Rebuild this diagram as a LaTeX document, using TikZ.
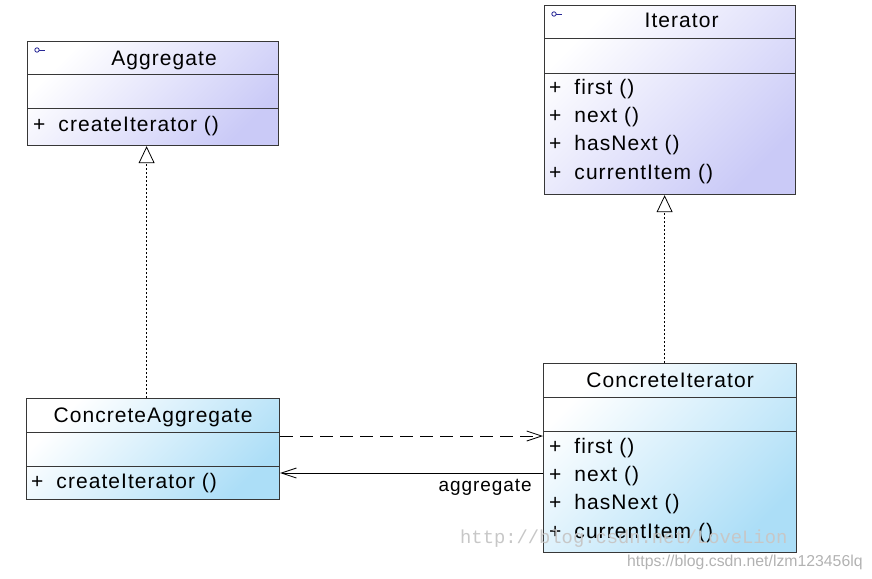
\documentclass[tikz,border=0pt]{standalone}
\usepackage{fontspec}
\setmainfont{Liberation Sans}[LetterSpace=5]
\newfontfamily\wmmono{Liberation Mono}
\newfontfamily\wmsans{Liberation Sans}
\usetikzlibrary{arrows.meta,positioning}

\definecolor{ifacefill}{RGB}{202,202,247}
\definecolor{implfill}{RGB}{172,222,247}
\definecolor{boxline}{RGB}{55,55,55}
\definecolor{iconblue}{RGB}{40,40,150}

\tikzset{
    classbox/.style={draw=boxline, line width=1.2pt, top color=white, bottom color=#1,
        shading angle=45, anchor=north west, inner sep=0pt},
    divider/.style={draw=boxline, line width=1pt},
    classname/.style={font=\fontsize{21}{25}\selectfont, anchor=base, inner sep=0pt},
    member/.style={font=\fontsize{21}{25}\selectfont, anchor=base west, inner sep=0pt},
    icon/.style={draw=iconblue, line width=0.8pt},
    realize/.style={draw=black, line width=0.8pt, dash pattern=on 2pt off 2pt,
        -{Triangle[open, fill=white, length=17pt, width=16pt, line width=0.8pt]}},
    depend/.style={draw=black, line width=0.8pt, dash pattern=on 13pt off 7pt,
        -{Straight Barb[length=15pt, width=10pt, line width=0.8pt]}},
    assoc/.style={draw=black, line width=0.8pt,
        -{Straight Barb[length=15pt, width=10pt, line width=0.8pt]}},
    rolelabel/.style={font=\fontsize{19}{23}\selectfont, inner sep=0pt},
    watermark/.style={inner sep=0pt, anchor=base west}
}

\begin{document}
\begin{tikzpicture}[x=1pt, y=-1pt]
    \useasboundingbox (0,0) rectangle (872,578);

    % Aggregate (interface)
    \node[classbox=ifacefill, minimum width=251pt, minimum height=104pt] (agg) at (27,41) {};
    \draw[divider] ([yshift=-33pt]agg.north west) -- ([yshift=-33pt]agg.north east);
    \draw[divider] ([yshift=-67pt]agg.north west) -- ([yshift=-67pt]agg.north east);
    \draw[icon] ([shift={(10pt,-9pt)}]agg.north west) coordinate (aggicon) circle (2.2pt);
    \draw[icon] ([xshift=2.2pt]aggicon) -- ++(6,0);
    \node[classname] (aggname) at ([shift={(11pt,-25pt)}]agg.north) {Aggregate};
    \node[member] (aggop) at ([shift={(6pt,-90pt)}]agg.north west) {+\hspace{13pt}createIterator ()};

    % Iterator (interface)
    \node[classbox=ifacefill, minimum width=251pt, minimum height=189pt] (iter) at (544,5) {};
    \draw[divider] ([yshift=-34pt]iter.north west) -- ([yshift=-34pt]iter.north east);
    \draw[divider] ([yshift=-68pt]iter.north west) -- ([yshift=-68pt]iter.north east);
    \draw[icon] ([shift={(10pt,-9pt)}]iter.north west) coordinate (itericon) circle (2.2pt);
    \draw[icon] ([xshift=2.2pt]itericon) -- ++(6,0);
    \node[classname] (itername) at ([shift={(11.5pt,-23pt)}]iter.north) {Iterator};
    \foreach \op [count=\i from 0] in {first (), next (), hasNext (), currentItem ()} {
        \node[member] (iterop\i) at ([shift={(5pt,-89pt-28.4pt*\i)}]iter.north west) {+\hspace{13pt}\op};
    }

    % ConcreteAggregate
    \node[classbox=implfill, minimum width=253pt, minimum height=101pt] (cagg) at (26,398) {};
    \draw[divider] ([yshift=-34pt]cagg.north west) -- ([yshift=-34pt]cagg.north east);
    \draw[divider] ([yshift=-68pt]cagg.north west) -- ([yshift=-68pt]cagg.north east);
    \node[classname] (caggname) at ([yshift=-24pt]cagg.north) {ConcreteAggregate};
    \node[member] (caggop) at ([shift={(5pt,-90pt)}]cagg.north west) {+\hspace{13pt}createIterator ()};

    % ConcreteIterator
    \node[classbox=implfill, minimum width=253pt, minimum height=189pt] (citer) at (543,363) {};
    \draw[divider] ([yshift=-34pt]citer.north west) -- ([yshift=-34pt]citer.north east);
    \draw[divider] ([yshift=-68pt]citer.north west) -- ([yshift=-68pt]citer.north east);
    \node[classname] (citername) at ([yshift=-24pt]citer.north) {ConcreteIterator};
    \foreach \op [count=\i from 0] in {first (), next (), hasNext (), currentItem ()} {
        \node[member] (citerop\i) at ([shift={(6pt,-90pt-28.4pt*\i)}]citer.north west) {+\hspace{13pt}\op};
    }

    % realizations
    \draw[realize] ([xshift=-6.5pt]cagg.north) -- ([xshift=-6.5pt]agg.south);
    \draw[realize] ([xshift=-5.5pt]citer.north) -- ([xshift=-5.5pt]iter.south);

    % dependency and association
    \coordinate (depstart) at ([yshift=-38pt]cagg.north east);
    \draw[depend] (depstart) -- (depstart -| citer.west);
    \coordinate (assocend) at ([yshift=-75pt]cagg.north east);
    \draw[assoc] (assocend -| citer.west) -- (assocend);
    \node[rolelabel, anchor=base east] (aggrole) at ([shift={(-11pt,-18pt)}]assocend -| citer.west) {aggregate};

    % watermarks
    \node[watermark, text=black!22, font=\wmmono\fontsize{18.8}{22}\selectfont] (wmold) at (460,543) {http://blog.csdn.net/LoveLion};
    \node[watermark, text=black!30, font=\wmsans\fontsize{15.8}{19}\selectfont] (wmnew) at (627,566) {https://blog.csdn.net/lzm123456lq};
\end{tikzpicture}
\end{document}
